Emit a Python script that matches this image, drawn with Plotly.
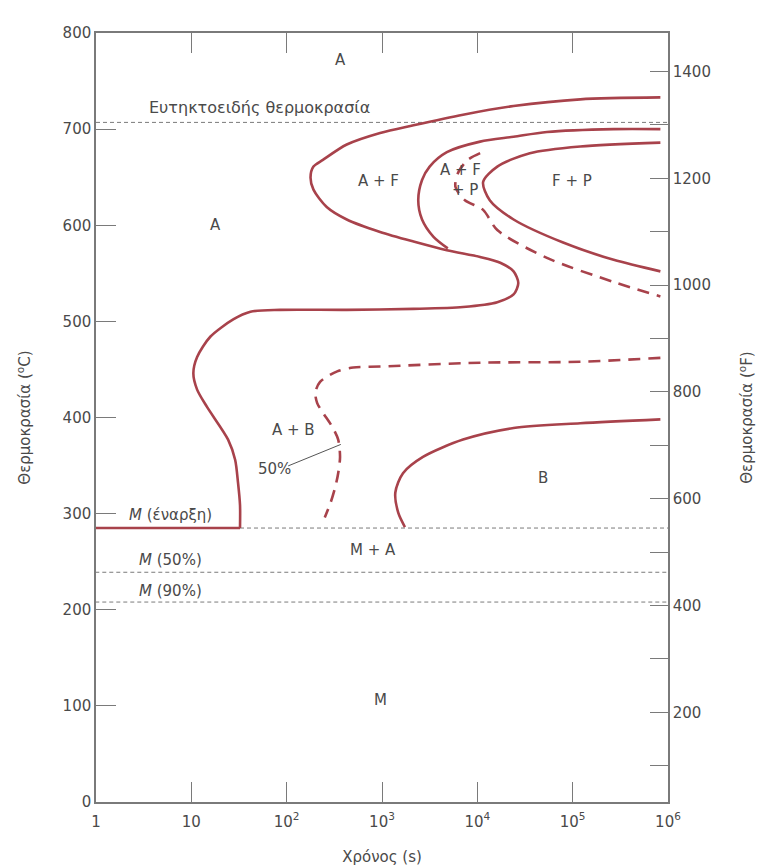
import math
import plotly.graph_objects as go

# ---- data (time in s, temperature in °C) ----
ferrite_start_t = [832000, 120000, 24000, 7080, 2140, 955, 427, 240, 191, 178, 191, 263, 427, 955, 2140,
                   4790, 10700, 17400, 24000, 26900, 24000, 16200, 7080, 2140, 427, 85, 41.7, 27.5, 15.8,
                   11.5, 10.5, 11.5, 14.6, 24.3, 28.8, 30.9, 32.4, 32.4]
ferrite_start_T = [733, 731, 724, 715, 704, 696, 684, 668, 661, 650, 637, 619, 606, 593, 583,
                   574, 567, 561, 552, 540, 528, 520, 515, 513, 512, 512, 510, 502, 484,
                   463, 446, 429, 411, 377, 356, 332, 309, 285]

pearlite_start_t = [4900, 3470, 2630, 2400, 2630, 3160, 4790, 10700, 24000, 53700, 269000, 832000]
pearlite_start_T = [576, 588, 606, 626, 647, 661, 676, 687, 692, 697, 700, 700]

pearlite_finish_t = [832000, 120000, 35500, 16200, 11500, 13500, 24000, 79400, 269000, 832000]
pearlite_finish_T = [686, 682, 675, 661, 645, 626, 606, 582, 564, 552]

pearlite_50_t = [10700, 7940, 6310, 5890, 7410, 11500, 16200, 53700, 269000, 832000]
pearlite_50_T = [675, 668, 655, 640, 626, 616, 595, 566, 541, 526]

bainite_50_t = [832000, 120000, 10700, 955, 500, 339, 224, 200, 209, 240, 302, 347, 363, 347, 324, 288, 251]
bainite_50_T = [462, 458, 457, 453, 452, 448, 437, 426, 415, 405, 390, 377, 359, 342, 328, 311, 296]

bainite_finish_t = [832000, 120000, 24000, 7080, 2690, 1660, 1380, 1480, 1740]
bainite_finish_T = [398, 394, 389, 377, 359, 342, 322, 301, 286]

eutectoid_T = 707
ms_start_T = 285
ms_50_T = 239
ms_90_T = 208
ms_solid_end_t = 32.4
line_start_t = 0.83   # lines poke slightly left of the frame

x_tickvals = [1, 10, 100, 1000, 10000, 100000, 1000000]
x_ticktext = ["1", "10", "10<sup>2</sup>", "10<sup>3</sup>", "10<sup>4</sup>", "10<sup>5</sup>", "10<sup>6</sup>"]
y_tickvals = [0, 100, 200, 300, 400, 500, 600, 700, 800]
f_tickvals = [100, 200, 300, 400, 500, 600, 700, 800, 900, 1000, 1100, 1200, 1300, 1400]
f_ticktext = ["" if v % 200 else str(v) for v in f_tickvals]

RED = "#a8424b"
GRAY = "#7a7a7a"
TXT = "#4a4a4a"
FONT = "DejaVu Sans, Liberation Sans, sans-serif"

fig = go.Figure()


def curve(t, T, dash="solid"):
    fig.add_trace(go.Scatter(x=t, y=T, mode="lines",
                             line=dict(color=RED, width=2.6, dash=dash, shape="spline", smoothing=0.8),
                             hoverinfo="skip", showlegend=False))


def hline(T, t0, dash="4px,3px", color=GRAY, width=1):
    fig.add_trace(go.Scatter(x=[t0, 1000000], y=[T, T], mode="lines", cliponaxis=False,
                             line=dict(color=color, width=width, dash=dash),
                             hoverinfo="skip", showlegend=False))


hline(eutectoid_T, 1)
hline(ms_start_T, ms_solid_end_t)
hline(ms_50_T, line_start_t)
hline(ms_90_T, line_start_t)
fig.add_trace(go.Scatter(x=[line_start_t, ms_solid_end_t], y=[ms_start_T, ms_start_T], mode="lines",
                         cliponaxis=False, line=dict(color=RED, width=2.6), hoverinfo="skip", showlegend=False))

curve(ferrite_start_t, ferrite_start_T)
curve(pearlite_start_t, pearlite_start_T)
curve(pearlite_finish_t, pearlite_finish_T)
curve(pearlite_50_t, pearlite_50_T, dash="12px,8px")
curve(bainite_50_t, bainite_50_T, dash="12px,8px")
curve(bainite_finish_t, bainite_finish_T)

# invisible trace for right (°F) axis
fig.add_trace(go.Scatter(x=[1, 1000000], y=[32, 1472], yaxis="y2", mode="lines",
                         line=dict(color="rgba(0,0,0,0)"), hoverinfo="skip", showlegend=False))

labels = [
    ("A", 363, 772, 15), ("Ευτηκτοειδής θερμοκρασία", 52.5, 722, 16), ("A", 18, 600, 15),
    ("A + F", 912, 646, 15), ("A + F", 6600, 658, 15), ("+ P", 7400, 637, 15), ("F + P", 98000, 646, 15),
    ("A + B", 117, 387, 15), ("B", 49000, 337, 15), ("M + A", 810, 262, 15), ("M", 955, 106, 15),
    ("<i>M</i> (έναρξη)", 6.0, 299, 15), ("<i>M</i> (50%)", 6.0, 252, 15), ("<i>M</i> (90%)", 6.0, 219, 15),
]
for txt, x, y, s in labels:
    fig.add_annotation(x=math.log10(x), y=y, text=txt, showarrow=False,
                       font=dict(family=FONT, size=s, color=TXT))

fig.add_annotation(x=math.log10(370), y=372, ax=math.log10(100), ay=349, axref="x", ayref="y",
                   text="", showarrow=True, arrowhead=0, arrowwidth=1, arrowcolor="#555")
fig.add_annotation(x=math.log10(75), y=346, text="50%", showarrow=False,
                   font=dict(family=FONT, size=15, color=TXT))

fig.update_layout(
    width=761, height=859,
    margin=dict(l=88, r=101, t=25, b=65),
    paper_bgcolor="white", plot_bgcolor="white",
    font=dict(family=FONT, size=15, color=TXT),
    xaxis=dict(type="log", range=[0, 6], tickvals=x_tickvals, ticktext=x_ticktext, automargin=False,
               ticks="inside", ticklen=20, tickcolor=GRAY, showline=True, linecolor=GRAY, linewidth=1.5,
               mirror="ticks", showgrid=False, zeroline=False, ticklabelstandoff=5,
               title=dict(text="Χρόνος (s)", font=dict(size=15), standoff=22),
               tickfont=dict(size=15)),
    yaxis=dict(range=[0, 800], tickvals=y_tickvals, ticks="inside", ticklen=20, tickcolor=GRAY, automargin=False,
               showline=True, linecolor=GRAY, linewidth=1.5, showgrid=False, zeroline=False,
               title=dict(text="Θερμοκρασία (<sup>o</sup>C)", font=dict(size=15), standoff=28),
               tickfont=dict(size=15)),
    yaxis2=dict(range=[32, 1472], overlaying="y", side="right", tickvals=f_tickvals, ticktext=f_ticktext,
                ticks="inside", ticklen=18, tickcolor=GRAY, showline=True, linecolor=GRAY, linewidth=1.5,
                showgrid=False, zeroline=False, automargin=False,
                title=dict(text="Θερμοκρασία (<sup>o</sup>F)", font=dict(size=15), standoff=32),
                tickfont=dict(size=15)),
)

fig.write_html("out.html")
